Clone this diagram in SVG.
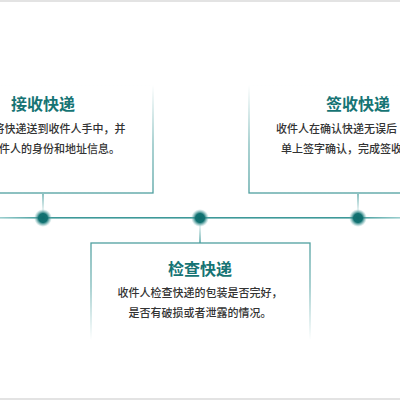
<svg xmlns="http://www.w3.org/2000/svg" width="400" height="400" viewBox="0 0 400 400">
  <defs>
    <style>
      .title { font-family: "Noto Sans CJK SC", "Noto Sans", sans-serif; font-size: 16px; font-weight: 700; fill: #167474; text-anchor: middle; }
      .body { font-family: "Noto Sans CJK SC", "Noto Sans", sans-serif; font-size: 11px; font-weight: 500; fill: #333333; }
      .mid { text-anchor: middle; }
      .box { fill: #ffffff; stroke-width: 1.3; }
    </style>
    <linearGradient id="gTop" gradientUnits="userSpaceOnUse" x1="0" y1="85" x2="0" y2="193">
      <stop offset="0" stop-color="#5aa7a7" stop-opacity="0"/>
      <stop offset="0.55" stop-color="#5aa7a7" stop-opacity="0.8"/>
      <stop offset="1" stop-color="#4f9f9f" stop-opacity="1"/>
    </linearGradient>
    <linearGradient id="gBottom" gradientUnits="userSpaceOnUse" x1="0" y1="243" x2="0" y2="340">
      <stop offset="0" stop-color="#4f9f9f" stop-opacity="1"/>
      <stop offset="0.45" stop-color="#5aa7a7" stop-opacity="0.8"/>
      <stop offset="1" stop-color="#5aa7a7" stop-opacity="0"/>
    </linearGradient>
    <linearGradient id="gLine" gradientUnits="userSpaceOnUse" x1="0" y1="0" x2="400" y2="0">
      <stop offset="0" stop-color="#9ccfcf"/>
      <stop offset="0.11" stop-color="#3e9999"/>
      <stop offset="0.89" stop-color="#3e9999"/>
      <stop offset="1" stop-color="#9ccfcf"/>
    </linearGradient>
    <linearGradient id="gDown" x1="0" y1="0" x2="0" y2="1">
      <stop offset="0" stop-color="#5aa7a7"/>
      <stop offset="1" stop-color="#5aa7a7" stop-opacity="0.1"/>
    </linearGradient>
    <linearGradient id="gUp" x1="0" y1="1" x2="0" y2="0">
      <stop offset="0" stop-color="#3f9999"/>
      <stop offset="1" stop-color="#5aa7a7" stop-opacity="0.1"/>
    </linearGradient>
    <radialGradient id="gDot">
      <stop offset="0" stop-color="#0d6c6c"/>
      <stop offset="0.5" stop-color="#127272"/>
      <stop offset="0.75" stop-color="#3a9090" stop-opacity="0.5"/>
      <stop offset="1" stop-color="#7fbaba" stop-opacity="0"/>
    </radialGradient>
  </defs>

  <rect x="0" y="0" width="400" height="400" fill="#ffffff"/>
  <rect x="0" y="0" width="400" height="2" fill="#e3e3e3"/>
  <rect x="0" y="398" width="400" height="2" fill="#e3e3e3"/>

  <g id="connectors">
    <rect x="0" y="217" width="400" height="1.6" fill="url(#gLine)"/>
    <rect x="42.3" y="194" width="1.4" height="18" fill="url(#gDown)"/>
    <rect x="357.3" y="194" width="1.4" height="18" fill="url(#gDown)"/>
    <rect x="199.3" y="224" width="1.4" height="19" fill="url(#gUp)"/>
    <circle cx="43" cy="218" r="9" fill="url(#gDot)"/>
    <circle cx="200" cy="218" r="9" fill="url(#gDot)"/>
    <circle cx="358" cy="218" r="9" fill="url(#gDot)"/>
  </g>

  <g id="node-receive">
    <rect class="box" x="-60" y="85" width="213" height="108" stroke="url(#gTop)"/>
    <text class="title" x="43" y="110">接收快递</text>
    <text class="body" x="-6.5" y="133">将快递送到收件人手中，并</text>
    <text class="body" x="-1" y="153">件人的身份和地址信息。</text>
  </g>

  <g id="node-sign">
    <rect class="box" x="249" y="85" width="220" height="108" stroke="url(#gTop)"/>
    <text class="title" x="358" y="110">签收快递</text>
    <text class="body" x="276" y="133">收件人在确认快递无误后</text>
    <text class="body" x="281" y="153">单上签字确认，完成签收</text>
  </g>

  <g id="node-check">
    <rect class="box" x="91" y="243" width="219" height="100" stroke="url(#gBottom)"/>
    <text class="title" x="200" y="275">检查快递</text>
    <text class="body mid" x="200" y="297">收件人检查快递的包装是否完好，</text>
    <text class="body mid" x="200" y="317">是否有破损或者泄露的情况。</text>
  </g>
</svg>
